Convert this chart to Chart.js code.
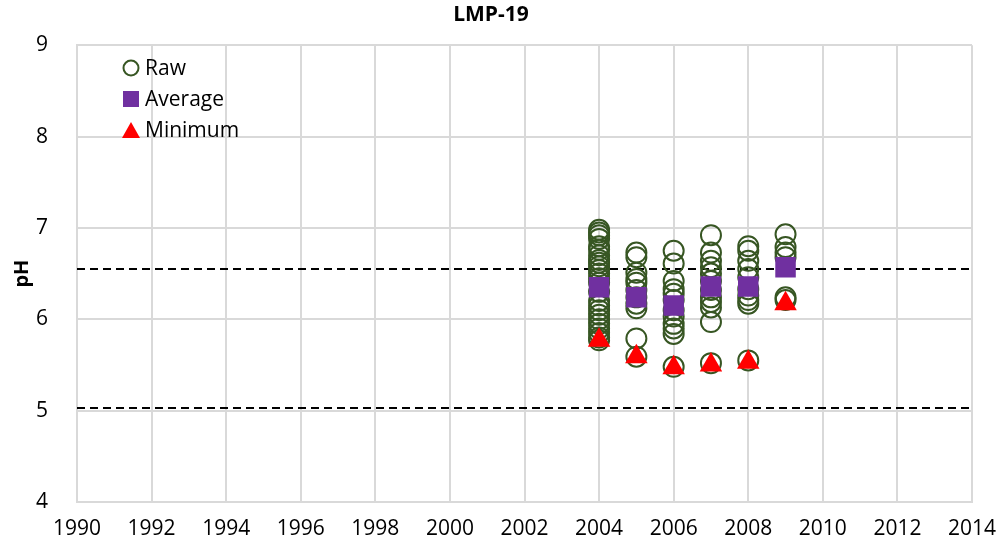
<!DOCTYPE html>
<html>
<head>
<meta charset="utf-8">
<script src="https://cdn.jsdelivr.net/npm/chart.js@4"></script>
<style>
  body { margin: 0; background: #fff; }
  #wrap { width: 1005px; height: 554px; }
</style>
</head>
<body>
<div id="wrap"><canvas id="lmpChart" width="1005" height="554"></canvas></div>
<script>
// raw pH readings, one list per year
const raw2004 = [6.98, 6.95, 6.92, 6.88, 6.80, 6.76, 6.70, 6.65, 6.62, 6.58, 6.54, 6.50, 6.45, 6.40, 6.30, 6.20, 6.15, 6.10, 6.05, 6.00, 5.95, 5.90, 5.85, 5.80, 5.77];
const raw2005 = [6.73, 6.68, 6.51, 6.44, 6.40, 6.32, 6.24, 6.17, 6.12, 5.79, 5.59];
const raw2006 = [6.75, 6.61, 6.42, 6.33, 6.28, 6.21, 6.10, 6.03, 5.95, 5.90, 5.84, 5.48];
const raw2007 = [6.92, 6.73, 6.64, 6.57, 6.50, 6.42, 6.32, 6.24, 6.19, 6.13, 5.97, 5.52];
const raw2008 = [6.80, 6.75, 6.64, 6.55, 6.46, 6.33, 6.26, 6.21, 6.17, 5.55];
const raw2009 = [6.93, 6.79, 6.73, 6.68, 6.24, 6.21];

const years = [2004, 2005, 2006, 2007, 2008, 2009];
const averages = [6.35, 6.24, 6.15, 6.36, 6.36, 6.57];
const minimums = [5.77, 5.59, 5.47, 5.50, 5.53, 6.17];

const upperLimit = 6.55;
const lowerLimit = 5.03;
const xRange = [1990, 2014];

const rawByYear = [raw2004, raw2005, raw2006, raw2007, raw2008, raw2009];
const rawPoints = [];
rawByYear.forEach((vals, i) => vals.forEach(v => rawPoints.push({ x: years[i], y: v })));

const FONT = "'Open Sans', 'Liberation Sans', sans-serif";

// legend drawn inside the plot, top left
const insideLegend = {
    id: "insideLegend",
    afterDraw(chart) {
        const ctx = chart.ctx;
        const items = chart.data.datasets.filter(d => d.inLegend);
        let y = 68;
        ctx.save();
        ctx.font = "21px " + FONT;
        ctx.textBaseline = "middle";
        items.forEach(d => {
            const x = 131;
            ctx.fillStyle = d.backgroundColor;
            ctx.strokeStyle = d.borderColor;
            ctx.lineWidth = 2;
            ctx.beginPath();
            if (d.pointStyle === "circle") {
                ctx.arc(x, y, 7.5, 0, Math.PI * 2);
                ctx.stroke();
            } else if (d.pointStyle === "rect") {
                ctx.fillRect(x - 8, y - 8, 16, 16);
            } else {
                ctx.moveTo(x, y - 8);
                ctx.lineTo(x + 9, y + 8);
                ctx.lineTo(x - 9, y + 8);
                ctx.closePath();
                ctx.fill();
            }
            ctx.fillStyle = "#000";
            ctx.fillText(d.label, 145, y + 1);
            y += 31;
        });
        ctx.restore();
    }
};

new Chart(document.getElementById("lmpChart").getContext("2d"), {
    type: "scatter",
    data: {
        datasets: [
            {
                label: "Upper",
                type: "line",
                data: [{ x: xRange[0], y: upperLimit }, { x: xRange[1], y: upperLimit }],
                borderColor: "#000",
                borderWidth: 2,
                borderDash: [8, 5],
                pointRadius: 0,
                order: 10
            },
            {
                label: "Lower",
                type: "line",
                data: [{ x: xRange[0], y: lowerLimit }, { x: xRange[1], y: lowerLimit }],
                borderColor: "#000",
                borderWidth: 2,
                borderDash: [8, 5],
                pointRadius: 0,
                order: 10
            },
            {
                label: "Raw",
                inLegend: true,
                data: rawPoints,
                pointStyle: "circle",
                pointRadius: 10,
                borderWidth: 2,
                borderColor: "#375623",
                backgroundColor: "rgba(0,0,0,0)",
                order: 3
            },
            {
                label: "Average",
                inLegend: true,
                data: years.map((yr, i) => ({ x: yr, y: averages[i] })),
                pointStyle: "rect",
                pointRadius: 14.5,
                borderWidth: 0,
                borderColor: "#7030A0",
                backgroundColor: "#7030A0",
                order: 2
            },
            {
                label: "Minimum",
                inLegend: true,
                data: years.map((yr, i) => ({ x: yr, y: minimums[i] })),
                pointStyle: "triangle",
                pointRadius: 13,
                borderWidth: 0,
                borderColor: "#FF0000",
                backgroundColor: "#FF0000",
                order: 1
            }
        ]
    },
    options: {
        responsive: false,
        animation: false,
        layout: { padding: { left: 10, right: 33, top: 0, bottom: 0 } },
        plugins: {
            legend: { display: false },
            tooltip: { enabled: false },
            title: {
                display: true,
                text: "LMP-19",
                color: "#000",
                font: { family: FONT, size: 21, weight: "bold" },
                padding: { top: 2, bottom: 18 }
            }
        },
        scales: {
            x: {
                type: "linear",
                min: xRange[0],
                max: xRange[1],
                afterFit: s => { s.height = 52; s.paddingLeft = 0; s.paddingRight = 0; },
                ticks: {
                    stepSize: 2,
                    color: "#000",
                    font: { family: FONT, size: 21 },
                    padding: 14,
                    maxRotation: 0,
                    callback: v => String(v)
                },
                grid: { color: "#d9d9d9", lineWidth: 2, drawTicks: false },
                border: { color: "#d9d9d9", width: 2 }
            },
            y: {
                min: 4,
                max: 9,
                afterFit: s => { s.width = 67; s.paddingTop = 0; s.paddingBottom = 0; },
                ticks: {
                    stepSize: 1,
                    color: "#000",
                    font: { family: FONT, size: 21 },
                    padding: 29
                },
                grid: { color: "#d9d9d9", lineWidth: 2, drawTicks: false },
                border: { color: "#d9d9d9", width: 2 },
                title: {
                    display: true,
                    text: "pH",
                    color: "#000",
                    font: { family: FONT, size: 20, weight: "bold" },
                    padding: { top: 0, bottom: 4 }
                }
            }
        }
    },
    plugins: [insideLegend]
});
</script>
</body>
</html>
